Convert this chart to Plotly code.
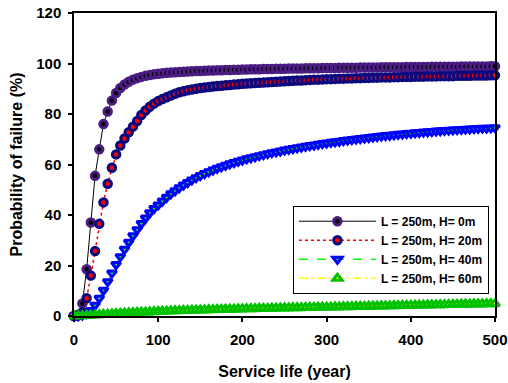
import plotly.graph_objects as go

# Service life (years) sampled every 5 years
years = list(range(0, 505, 5))

# L = 250m, H = 0m
pf_h0 = [
    0.0, 0.5, 5.0, 18.5, 37.0, 55.5, 66.0, 76.0, 81.0, 85.3,
    88.3, 90.3, 91.7, 92.8, 93.6, 94.2, 94.7, 95.1, 95.4, 95.7,
    95.9, 96.1, 96.3, 96.4, 96.5, 96.6, 96.7, 96.8, 96.9, 97.0,
    97.0, 97.1, 97.2, 97.2, 97.3, 97.3, 97.4, 97.4, 97.5, 97.5,
    97.6, 97.6, 97.7, 97.7, 97.7, 97.8, 97.8, 97.8, 97.9, 97.9,
    97.9, 98.0, 98.0, 98.0, 98.0, 98.1, 98.1, 98.1, 98.1, 98.2,
    98.2, 98.2, 98.2, 98.3, 98.3, 98.3, 98.3, 98.3, 98.4, 98.4,
    98.4, 98.4, 98.4, 98.5, 98.5, 98.5, 98.5, 98.5, 98.5, 98.6,
    98.6, 98.6, 98.6, 98.6, 98.6, 98.7, 98.7, 98.7, 98.7, 98.7,
    98.7, 98.7, 98.8, 98.8, 98.8, 98.8, 98.8, 98.8, 98.8, 98.9,
    98.9,
]

# L = 250m, H = 20m
pf_h20 = [
    0.0, 0.3, 1.5, 7.0, 16.0, 25.7, 36.5, 45.0, 52.4, 58.7,
    64.0, 67.5, 70.3, 72.8, 75.0, 77.2, 79.6, 81.4, 82.9, 84.1,
    85.1, 85.9, 86.6, 87.3, 88.0, 88.6, 89.0, 89.4, 89.7, 90.0,
    90.3, 90.5, 90.7, 90.9, 91.1, 91.2, 91.4, 91.5, 91.7, 91.8,
    92.0, 92.1, 92.2, 92.3, 92.4, 92.5, 92.6, 92.7, 92.8, 92.9,
    93.0, 93.1, 93.2, 93.3, 93.3, 93.4, 93.5, 93.6, 93.6, 93.7,
    93.8, 93.8, 93.9, 94.0, 94.0, 94.1, 94.1, 94.2, 94.2, 94.3,
    94.3, 94.4, 94.4, 94.5, 94.5, 94.5, 94.6, 94.6, 94.7, 94.7,
    94.7, 94.8, 94.8, 94.8, 94.9, 94.9, 94.9, 95.0, 95.0, 95.0,
    95.0, 95.1, 95.1, 95.1, 95.1, 95.2, 95.2, 95.2, 95.2, 95.3,
    95.3,
]

# L = 250m, H = 40m
pf_h40 = [
    0.0, 0.1, 0.4, 1.0, 2.2, 4.3, 7.0, 10.2, 13.6, 17.0,
    20.4, 23.5, 26.4, 29.2, 31.8, 34.2, 36.6, 38.8, 40.9, 42.6,
    44.0, 45.5, 47.0, 48.4, 49.6, 50.8, 51.9, 52.9, 53.9, 54.8,
    55.6, 56.4, 57.1, 57.8, 58.5, 59.1, 59.7, 60.3, 60.8, 61.3,
    61.8, 62.3, 62.7, 63.1, 63.5, 63.9, 64.3, 64.7, 65.0, 65.3,
    65.7, 66.0, 66.3, 66.6, 66.9, 67.2, 67.5, 67.7, 68.0, 68.3,
    68.5, 68.8, 69.0, 69.2, 69.5, 69.7, 69.9, 70.1, 70.3, 70.5,
    70.7, 70.9, 71.1, 71.3, 71.5, 71.6, 71.8, 72.0, 72.1, 72.3,
    72.4, 72.6, 72.7, 72.9, 73.0, 73.1, 73.3, 73.4, 73.5, 73.6,
    73.7, 73.8, 73.9, 74.0, 74.1, 74.2, 74.3, 74.4, 74.4, 74.5,
    74.6,
]

# L = 250m, H = 60m
pf_h60 = [
    0.0, 0.05, 0.1, 0.2, 0.3, 0.4, 0.5, 0.6, 0.7, 0.8,
    0.9, 1.0, 1.1, 1.2, 1.3, 1.4, 1.5, 1.5, 1.6, 1.7,
    1.8, 1.85, 1.9, 2.0, 2.05, 2.1, 2.15, 2.2, 2.25, 2.3,
    2.35, 2.4, 2.45, 2.5, 2.55, 2.6, 2.65, 2.7, 2.72, 2.76,
    2.8, 2.84, 2.88, 2.92, 2.96, 3.0, 3.03, 3.07, 3.1, 3.14,
    3.17, 3.2, 3.24, 3.27, 3.3, 3.34, 3.37, 3.4, 3.44, 3.47,
    3.5, 3.53, 3.57, 3.6, 3.64, 3.67, 3.71, 3.74, 3.78, 3.81,
    3.85, 3.88, 3.92, 3.95, 3.99, 4.02, 4.06, 4.09, 4.13, 4.16,
    4.2, 4.23, 4.27, 4.3, 4.34, 4.37, 4.41, 4.44, 4.48, 4.51,
    4.55, 4.58, 4.62, 4.65, 4.69, 4.72, 4.76, 4.79, 4.83, 4.86,
    4.9,
]

names = ["L = 250m, H= 0m", "L = 250m, H= 20m", "L = 250m, H= 40m", "L = 250m, H= 60m"]
x_ticks = [0, 100, 200, 300, 400, 500]
y_ticks = [0, 20, 40, 60, 80, 100, 120]

for s in (pf_h0, pf_h20, pf_h40, pf_h60):
    assert len(s) == len(years), len(s)

FONT = "Liberation Sans, Arial, sans-serif"

fig = go.Figure()
fig.add_trace(go.Scatter(
    x=years, y=pf_h0, name=names[0], mode="lines+markers",
    line=dict(color="black", width=1),
    marker=dict(symbol="circle", size=7.5, color="black",
                line=dict(color="#4B1C82", width=3)),
    cliponaxis=False,
))
fig.add_trace(go.Scatter(
    x=years, y=pf_h20, name=names[1], mode="lines+markers",
    line=dict(color="red", width=1.5, dash="dot"),
    marker=dict(symbol="circle", size=7.5, color="red",
                line=dict(color="#0A0A80", width=3)),
    cliponaxis=False,
))
fig.add_trace(go.Scatter(
    x=years, y=pf_h40, name=names[2], mode="lines+markers",
    line=dict(color="#00FF00", width=1.5, dash="dash"),
    marker=dict(symbol="triangle-down", size=8, color="#00FF00",
                line=dict(color="#0000FF", width=3)),
    cliponaxis=False,
))
fig.add_trace(go.Scatter(
    x=years, y=pf_h60, name=names[3], mode="lines+markers",
    line=dict(color="#FFFF00", width=1.5, dash="dashdot"),
    marker=dict(symbol="triangle-up", size=8, color="#FFFF00",
                line=dict(color="#00C000", width=3)),
    cliponaxis=False,
))

axis_common = dict(
    showgrid=False, zeroline=False, showline=True, linecolor="black",
    linewidth=1.5, mirror=True, ticks="outside", ticklen=4, tickwidth=1.5,
    tickcolor="black", automargin=False,
    tickfont=dict(family=FONT, size=15, color="black", weight="bold"),
)

fig.update_layout(
    width=508, height=383,
    margin=dict(l=74, r=13, t=13, b=67),
    paper_bgcolor="white", plot_bgcolor="white",
    font=dict(family=FONT, color="black"),
    xaxis=dict(range=[0, 500], tickvals=x_ticks, ticklabelstandoff=5,
               title=dict(text="<b>Service life (year)</b>",
                          font=dict(family=FONT, size=16, color="black"),
                          standoff=19),
               **axis_common),
    yaxis=dict(range=[0, 120], tickvals=y_ticks, ticklabelstandoff=4,
               title=dict(text="<b>Probability of failure (%)</b>",
                          font=dict(family=FONT, size=16, color="black"),
                          standoff=10),
               **axis_common),
    legend=dict(x=0.52, y=0.364, xanchor="left", yanchor="top",
                bordercolor="black", borderwidth=1, bgcolor="white",
                font=dict(family=FONT, size=12, color="black", weight="bold"),
                itemwidth=77, tracegroupgap=0),
    showlegend=True,
)

fig.write_html("out.html")
